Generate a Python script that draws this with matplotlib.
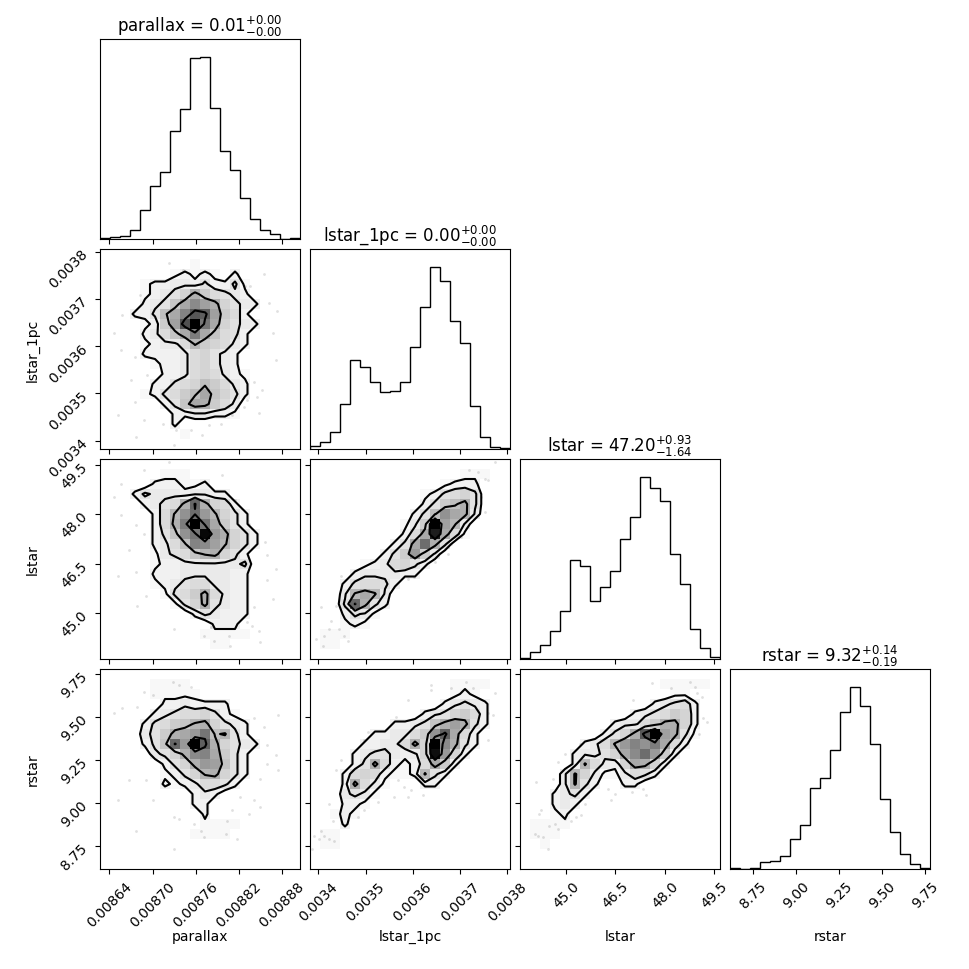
import numpy as np
import matplotlib
matplotlib.use("Agg")
import matplotlib.pyplot as plt
from matplotlib.colors import LinearSegmentedColormap

# ---------------- data ----------------
labels = ["parallax", "lstar_1pc", "lstar", "rstar"]
ranges = [(0.008627, 0.008905), (0.003382, 0.003806), (43.61, 49.67), (8.618, 9.779)]
titles = [r"parallax = $0.01_{-0.00}^{+0.00}$",
          r"lstar_1pc = $0.00_{-0.00}^{+0.00}$",
          r"lstar = $47.20_{-1.64}^{+0.93}$",
          r"rstar = $9.32_{-0.19}^{+0.14}$"]

ticks_parallax = [0.00864, 0.00870, 0.00876, 0.00882, 0.00888]
ticks_lstar_1pc = [0.0034, 0.0035, 0.0036, 0.0037, 0.0038]
ticks_lstar = [45.0, 46.5, 48.0, 49.5]
ticks_rstar = [8.75, 9.00, 9.25, 9.50, 9.75]
ticklabels_parallax = ["0.00864", "0.00870", "0.00876", "0.00882", "0.00888"]
ticklabels_lstar_1pc = ["0.0034", "0.0035", "0.0036", "0.0037", "0.0038"]
ticklabels_lstar = ["45.0", "46.5", "48.0", "49.5"]
ticklabels_rstar = ["8.75", "9.00", "9.25", "9.50", "9.75"]

# 1-D histogram counts (20 bins across each range)
hist_parallax = [2, 5, 8, 27, 86, 158, 200, 323, 391, 542, 545, 393, 265, 206, 123, 60, 26, 16, 1, 2]
hist_lstar_1pc = [9, 21, 51, 135, 267, 246, 200, 169, 172, 200, 306, 425, 543, 501, 381, 318, 129, 35, 7, 2]
hist_lstar = [4, 21, 42, 85, 142, 297, 278, 172, 216, 264, 357, 425, 543, 510, 473, 315, 225, 89, 34, 7]
hist_rstar = [2, 0, 4, 22, 24, 39, 91, 132, 243, 273, 354, 468, 543, 488, 372, 209, 110, 45, 14, 2]

# 2-D histogram counts, base-36 digits, rows listed from top (high y) to bottom
grid_lstar_1pc_parallax = [
    "00000000000000000000",
    "00000000010000000000",
    "00000001212102000000",
    "00001223324224100000",
    "000012346b7543200000",
    "00002348cgdb64320000",
    "0002249chnmd75200000",
    "0000127dozjc64320000",
    "00002358cic854200000",
    "000012335a7653200000",
    "00002222356432000000",
    "00000122356432000000",
    "00000022356532100000",
    "00000224569753200000",
    "0000124579c864200000",
    "000000248cb753000000",
    "00000002233221000000",
    "00000002000000000000",
    "00000000100000000000",
    "00000000000000000000",
]
grid_lstar_parallax = [
    "00000000000000000000",
    "00000011100000000000",
    "00000222112000000000",
    "00024333233220000000",
    "00002345blb652000000",
    "0000025afkea64200000",
    "0000025bizjc74200000",
    "00000248fjyeb6420000",
    "000002359hgda6420000",
    "0000013458ab64200000",
    "00000122333333400000",
    "00000222333332200000",
    "00000123455332200000",
    "0000001457b532200000",
    "0000000146b432200000",
    "00000000024322200000",
    "00000000000222000000",
    "00000000001111100000",
    "00000000000110000000",
    "00000000000000000000",
]
grid_lstar_lstar_1pc = [
    "00000000000000000000",
    "00000000000000011100",
    "00000000000001222000",
    "00000000000124564000",
    "000000000002479b4000",
    "0000000000249fcb3000",
    "000000000137zda30000",
    "00000000025cvc510000",
    "0000000024ckb4000000",
    "0000000247e730000000",
    "00000123564200000000",
    "00002333322000000000",
    "00024554200000000000",
    "0003aca3000000000000",
    "0004lb42000000000000",
    "00024310000000000000",
    "00012100000000000000",
    "01110000000000000000",
    "01100000000000000000",
    "00000000000000000000",
]
grid_rstar_parallax = [
    "00000000000000000000",
    "00000111100000000000",
    "00000111110000000000",
    "00000022322220000000",
    "00000234556421000000",
    "000024578ab643200000",
    "0000347bcej9a4200000",
    "0000248lezmb64320000",
    "00000346bghc74200000",
    "000000246bed84200000",
    "0000001246ab64200000",
    "00000021235542000000",
    "00000000023200000000",
    "00000000022000000000",
    "00000000002000000000",
    "00000000001111000000",
    "00000000011110000000",
    "00000000000000000000",
    "00000000000000000000",
    "00000000000000000000",
]
grid_rstar_lstar_1pc = [
    "00000000000000000000",
    "00000000000000111100",
    "00000000000000121000",
    "00000000000002343200",
    "00000000000234675200",
    "0000000022348bdb4200",
    "000000223357fmc52000",
    "0000022335b6zgb42000",
    "000023443236xe620000",
    "000024b52125c7200000",
    "00025652112a42000000",
    "0002b531000220000000",
    "00034310000000000000",
    "00022100000000000000",
    "00121000000000000000",
    "00020000000000000000",
    "01100000000000000000",
    "01100000000000000000",
    "00000000000000000000",
    "00000000000000000000",
]
grid_rstar_lstar = [
    "00000000000000000000",
    "00000000000000111110",
    "00000000000000011000",
    "00000000000002345200",
    "00000000000234576200",
    "00000000023357bb6200",
    "00000000246bnzdb4100",
    "000000235aehfic52000",
    "0000023346cgke720000",
    "000002a5326cb6200000",
    "00003a63113542000000",
    "00003a42002200000000",
    "00023420000000000000",
    "00023200000000000000",
    "00012000000000000000",
    "01111000000000000000",
    "01110000000000000000",
    "00100000000000000000",
    "00000000000000000000",
    "00000000000000000000",
]
contour_levels = [1.5, 3.5, 9.5, 20.5]

# individual samples visible outside the outermost contour
pts_lstar_1pc_parallax_x = [0.008723, 0.008742, 0.008855, 0.008829, 0.008836, 0.008682, 0.008862,
                            0.008657, 0.008873, 0.008647, 0.008868, 0.008656, 0.008675, 0.008871,
                            0.008670, 0.008693, 0.008841, 0.008852, 0.008845, 0.008832, 0.008827,
                            0.008848, 0.008675, 0.008652, 0.008688, 0.008714, 0.008732, 0.008753,
                            0.008769, 0.008778, 0.008795, 0.008811, 0.008677, 0.008730]
pts_lstar_1pc_parallax_y = [0.003777, 0.003762, 0.003754, 0.003727, 0.003727, 0.003709, 0.003692,
                            0.003667, 0.003674, 0.003628, 0.003628, 0.003592, 0.003578, 0.003571,
                            0.003528, 0.003539, 0.003525, 0.003507, 0.003493, 0.003486, 0.003472,
                            0.003458, 0.003482, 0.003454, 0.003443, 0.003436, 0.003422, 0.003422,
                            0.003411, 0.003433, 0.003436, 0.003454, 0.003408, 0.003390]
pts_lstar_parallax_x = [0.008688, 0.008723, 0.008656, 0.008647, 0.008797, 0.008815, 0.008834,
                        0.008836, 0.008857, 0.008656, 0.008677, 0.008688, 0.008668, 0.008677,
                        0.008652, 0.008859, 0.008871, 0.008859, 0.008868, 0.008841, 0.008691,
                        0.008679, 0.008730, 0.008772, 0.008781, 0.008806, 0.008832, 0.008838,
                        0.008848, 0.008850, 0.008808, 0.008785]
pts_lstar_parallax_y = [49.33, 49.58, 48.92, 48.52, 49.18, 48.42, 47.71, 47.35, 47.15, 47.96,
                        47.66, 47.41, 46.90, 46.24, 46.14, 46.75, 46.34, 45.99, 45.43, 45.18,
                        45.53, 45.23, 44.52, 44.32, 44.57, 44.32, 44.72, 44.62, 44.47, 44.12,
                        44.01, 44.17]
pts_lstar_lstar_1pc_x = [0.003720, 0.003738, 0.003752, 0.003774, 0.003759, 0.003745, 0.003752,
                         0.003703, 0.003681, 0.003674, 0.003646, 0.003603, 0.003589, 0.003561,
                         0.003448, 0.003437, 0.003426, 0.003405, 0.003412, 0.003394, 0.003409,
                         0.003423, 0.003444, 0.003455, 0.003462, 0.003490, 0.003476]
pts_lstar_lstar_1pc_y = [49.33, 49.28, 49.07, 49.58, 49.02, 48.52, 48.06, 47.30, 47.10, 46.80,
                         46.55, 46.09, 46.04, 45.94, 46.14, 45.23, 44.77, 45.18, 44.32, 44.22,
                         44.01, 44.52, 44.52, 44.32, 44.17, 44.72, 44.62]
pts_rstar_parallax_x = [0.008728, 0.008737, 0.008753, 0.008688, 0.008700, 0.008679, 0.008658,
                        0.008647, 0.008875, 0.008841, 0.008855, 0.008859, 0.008871, 0.008859,
                        0.008875, 0.008850, 0.008668, 0.008691, 0.008652, 0.008700, 0.008822,
                        0.008841, 0.008850, 0.008834, 0.008811, 0.008804, 0.008730, 0.008737,
                        0.008758, 0.008767, 0.008772, 0.008802, 0.008818, 0.008677, 0.008730]
pts_rstar_parallax_y = [9.705, 9.686, 9.676, 9.647, 9.628, 9.560, 9.550, 9.521, 9.511, 9.492,
                        9.443, 9.336, 9.278, 9.230, 9.191, 9.142, 9.132, 9.132, 9.016, 9.016,
                        9.035, 9.016, 8.977, 8.938, 8.958, 8.899, 8.919, 8.909, 8.880, 8.841,
                        8.802, 8.822, 8.793, 8.841, 8.734]
pts_rstar_lstar_1pc_x = [0.003639, 0.003639, 0.003681, 0.003713, 0.003728, 0.003774, 0.003759,
                         0.003770, 0.003752, 0.003759, 0.003589, 0.003564, 0.003504, 0.003497,
                         0.003483, 0.003448, 0.003437, 0.003568, 0.003582, 0.003596, 0.003621,
                         0.003589, 0.003561, 0.003526, 0.003497, 0.003483, 0.003430, 0.003423,
                         0.003405, 0.003412, 0.003391, 0.003401, 0.003423, 0.003433, 0.003387,
                         0.003462, 0.003664]
pts_rstar_lstar_1pc_y = [9.686, 9.657, 9.666, 9.705, 9.666, 9.637, 9.521, 9.511, 9.453, 9.365,
                         9.599, 9.501, 9.414, 9.365, 9.297, 9.249, 9.191, 9.132, 9.094, 9.074,
                         9.045, 9.035, 9.035, 9.006, 8.958, 8.919, 8.899, 8.997, 8.841, 8.812,
                         8.812, 8.793, 8.793, 8.783, 8.734, 8.958, 9.171]
pts_rstar_lstar_x = [48.76, 48.91, 48.96, 49.12, 49.17, 49.27, 49.02, 48.20, 47.60, 47.04,
                     46.13, 45.82, 45.62, 45.42, 44.96, 44.76, 44.60, 44.10, 45.57, 45.47,
                     45.31, 45.16, 44.96, 44.66, 44.50, 44.20, 44.25, 44.05, 44.15, 44.30,
                     44.45, 44.76, 46.28, 46.48, 46.99, 47.34, 47.44, 46.38]
pts_rstar_lstar_y = [9.705, 9.676, 9.637, 9.618, 9.492, 9.472, 9.404, 9.666, 9.696, 9.599,
                     9.404, 9.375, 9.356, 9.346, 9.288, 9.239, 9.142, 9.123, 8.997, 8.929,
                     8.919, 8.899, 8.909, 8.880, 8.870, 8.938, 8.958, 8.822, 8.812, 8.802,
                     8.734, 8.851, 9.084, 9.055, 9.064, 9.084, 9.045, 9.016]

# ---------------- assembly ----------------
ticks = [ticks_parallax, ticks_lstar_1pc, ticks_lstar, ticks_rstar]
ticklabels = [ticklabels_parallax, ticklabels_lstar_1pc, ticklabels_lstar, ticklabels_rstar]
hists = [hist_parallax, hist_lstar_1pc, hist_lstar, hist_rstar]
grids = {(1, 0): grid_lstar_1pc_parallax, (2, 0): grid_lstar_parallax,
         (2, 1): grid_lstar_lstar_1pc, (3, 0): grid_rstar_parallax,
         (3, 1): grid_rstar_lstar_1pc, (3, 2): grid_rstar_lstar}
points = {(1, 0): (pts_lstar_1pc_parallax_x, pts_lstar_1pc_parallax_y),
          (2, 0): (pts_lstar_parallax_x, pts_lstar_parallax_y),
          (2, 1): (pts_lstar_lstar_1pc_x, pts_lstar_lstar_1pc_y),
          (3, 0): (pts_rstar_parallax_x, pts_rstar_parallax_y),
          (3, 1): (pts_rstar_lstar_1pc_x, pts_rstar_lstar_1pc_y),
          (3, 2): (pts_rstar_lstar_x, pts_rstar_lstar_y)}


def decode(rows):
    arr = np.array([[int(ch, 36) for ch in r.ljust(20, "0")[:20]] for r in rows], dtype=float)
    return arr[::-1]  # row 0 = lowest y


K = 4
dim = 9.7
lb = 1.0 / dim
tr = 9.3 / dim
fig, axes = plt.subplots(K, K, figsize=(dim, dim), dpi=100)
fig.subplots_adjust(left=lb, bottom=lb, right=tr, top=tr, wspace=0.05, hspace=0.05)

dens_cmap = LinearSegmentedColormap.from_list("dens", [(0, 0, 0, 0), (0, 0, 0, 1)])

for i in range(K):
    for j in range(K):
        ax = axes[i, j]
        if j > i:
            ax.set_frame_on(False)
            ax.set_xticks([])
            ax.set_yticks([])
            continue
        xlo, xhi = ranges[j]
        xe = np.linspace(xlo, xhi, 21)
        if i == j:
            n = np.array(hists[i], dtype=float)
            ax.stairs(n, xe, color="k", linewidth=1.0, baseline=0)
            ax.set_xlim(xlo, xhi)
            ax.set_ylim(0, 1.1 * n.max())
            ax.set_yticks([])
            ax.set_title(titles[i], fontsize=12)
        else:
            ylo, yhi = ranges[i]
            ye = np.linspace(ylo, yhi, 21)
            H = decode(grids[(i, j)])
            xc = 0.5 * (xe[1:] + xe[:-1])
            yc = 0.5 * (ye[1:] + ye[:-1])
            dx = xe[1] - xe[0]
            dy = ye[1] - ye[0]
            Xp = np.concatenate([[xc[0] - dx], xc, [xc[-1] + dx]])
            Yp = np.concatenate([[yc[0] - dy], yc, [yc[-1] + dy]])
            Hp = np.zeros((22, 22))
            Hp[1:-1, 1:-1] = H
            px, py = points[(i, j)]
            ax.plot(px, py, "o", color="k", ms=2.0, mec="none", alpha=0.12, zorder=-1)
            ax.contourf(Xp, Yp, Hp, [contour_levels[0], Hp.max() + 1], colors="white",
                        antialiased=False)
            ax.pcolormesh(xe, ye, H, cmap=dens_cmap, vmin=0, vmax=H.max())
            ax.contour(Xp, Yp, Hp, contour_levels, colors="k", linewidths=1.5)
            ax.set_xlim(xlo, xhi)
            ax.set_ylim(ylo, yhi)
            ax.set_yticks(ticks[i])
            if j == 0:
                ax.set_yticklabels(ticklabels[i], rotation=45)
                ax.set_ylabel(labels[i], fontsize=10)
                ax.yaxis.set_label_coords(-0.3, 0.5)
            else:
                ax.set_yticklabels([])
        ax.set_xticks(ticks[j])
        if i == K - 1:
            ax.set_xticklabels(ticklabels[j], rotation=45)
            ax.set_xlabel(labels[j], fontsize=10)
            ax.xaxis.set_label_coords(0.5, -0.3)
        else:
            ax.set_xticklabels([])

fig.savefig("out.png", dpi=100)
